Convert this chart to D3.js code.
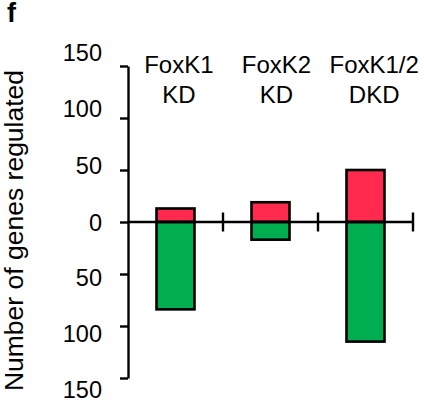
<!DOCTYPE html>
<html>
<head>
<meta charset="utf-8">
<script src="https://cdn.jsdelivr.net/npm/d3@7"></script>
<style>
  html, body { margin: 0; padding: 0; background: #fff; }
  svg { display: block; font-family: "Liberation Sans", Arial, Helvetica, sans-serif; }
</style>
</head>
<body>
<svg id="chart" width="424" height="403"></svg>
<script>
// Genes regulated after knockdown: up-regulated drawn above zero, down-regulated below
const categories = ["FoxK1 KD", "FoxK2 KD", "FoxK1/2 DKD"];
const labelLines = [["FoxK1", "KD"], ["FoxK2", "KD"], ["FoxK1/2", "DKD"]];
const upRegulated = [13, 19, 50];
const downRegulated = [84, 17, 115];
const tickValues = [150, 100, 50, 0, -50, -100, -150];

const svg = d3.select("#chart");
const red = "#ff2a4e";
const green = "#00ae4f";

const x = d3.scaleBand().domain(categories).range([128, 413]).padding(0);
const y = d3.scaleLinear().domain([-150, 150]).range([378, 66]);
// tick labels sit on a slightly more spread scale than the ticks themselves
const yLab = d3.scaleLinear().domain([-150, 0, 150]).range([390, 222.5, 52.5]);
const xLab = d3.scaleBand().domain(categories).range([130, 423]).padding(0);

// panel letter
svg.append("text").attr("x", 7).attr("y", 22)
  .attr("font-size", 27).attr("font-weight", "bold").text("f");

// y-axis title
svg.append("text")
  .attr("transform", `translate(23, ${(73 + 388) / 2}) rotate(-90)`)
  .attr("text-anchor", "middle")
  .attr("font-size", 26.5)
  .text("Number of genes regulated");

// bars
const barW = x.bandwidth() * 0.4;
const bars = svg.append("g").attr("stroke", "#000").attr("stroke-width", 2.6);
bars.selectAll("rect.up").data(categories).join("rect")
  .attr("class", "up")
  .attr("x", d => x(d) + (x.bandwidth() - barW) / 2)
  .attr("width", barW)
  .attr("y", (d, i) => y(upRegulated[i]))
  .attr("height", (d, i) => y(0) - y(upRegulated[i]))
  .attr("fill", red);
bars.selectAll("rect.down").data(categories).join("rect")
  .attr("class", "down")
  .attr("x", d => x(d) + (x.bandwidth() - barW) / 2)
  .attr("width", barW)
  .attr("y", y(0))
  .attr("height", (d, i) => y(-downRegulated[i]) - y(0))
  .attr("fill", green);

// y axis: line and ticks
const yAxis = svg.append("g").attr("transform", "translate(128,0)")
  .call(d3.axisLeft(y).tickValues(tickValues).tickSize(8).tickSizeOuter(0).tickFormat(""));
yAxis.select(".domain").attr("stroke-width", 2.4);
yAxis.selectAll(".tick line").attr("stroke-width", 2.4);

// y tick labels
svg.append("g").attr("transform", "translate(102,0)")
  .call(d3.axisLeft(yLab).tickValues(tickValues).tickSize(0).tickPadding(0)
    .tickFormat(d => Math.abs(d)))
  .call(g => g.select(".domain").remove())
  .call(g => g.selectAll("text").attr("font-size", 23.5).attr("fill", "#000")
    .attr("font-family", "Liberation Sans, Arial, sans-serif"));

// x axis through zero with ticks at band boundaries
const xAxis = svg.append("g");
xAxis.append("line")
  .attr("x1", x.range()[0]).attr("x2", x.range()[1])
  .attr("y1", y(0)).attr("y2", y(0))
  .attr("stroke", "#000").attr("stroke-width", 2.4);
xAxis.selectAll("line.tick").data(categories).join("line")
  .attr("class", "tick")
  .attr("x1", d => x(d) + x.bandwidth()).attr("x2", d => x(d) + x.bandwidth())
  .attr("y1", y(0) - 9.5).attr("y2", y(0) + 9.5)
  .attr("stroke", "#000").attr("stroke-width", 2.4);

// category labels
const labs = svg.append("g").attr("text-anchor", "middle").attr("font-size", 24);
labs.selectAll("text").data(categories).join("text")
  .attr("x", d => xLab(d) + xLab.bandwidth() / 2)
  .each(function (d, i) {
    const t = d3.select(this);
    labelLines[i].forEach((line, j) => {
      t.append("tspan").attr("x", xLab(d) + xLab.bandwidth() / 2)
        .attr("y", 73 + j * 29.5).text(line);
    });
  });
</script>
</body>
</html>
